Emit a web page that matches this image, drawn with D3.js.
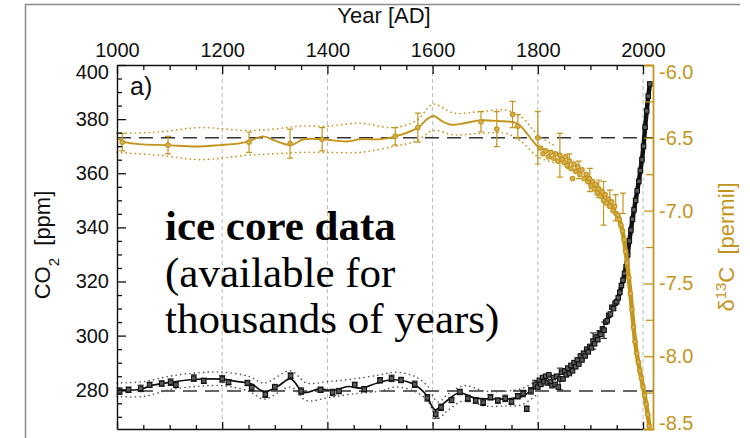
<!DOCTYPE html>
<html>
<head>
<meta charset="utf-8">
<script src="https://cdn.jsdelivr.net/npm/d3@7"></script>
<style>
  body { margin: 0; background: #fff; }
  svg { display: block; }
  text { font-family: "Liberation Sans", Arial, sans-serif; }
</style>
</head>
<body>
<svg id="chart" width="750" height="438"></svg>
<script>
// ---------------- axis ticks ----------------
const yearTicks = [1000, 1200, 1400, 1600, 1800, 2000];
const co2Ticks = [280, 300, 320, 340, 360, 380, 400];
const d13Ticks = [-6.0, -6.5, -7.0, -7.5, -8.0, -8.5];

// ---------------- CO2 (ppm) ----------------
// smoothing spline through the ice-core record
const co2SplineYear = [1000,1040,1070,1100,1140,1200,1230,1255,1280,1305,1330,1355,1385,1410,1440,1465,1495,1525,1560,1585,1605,1625,1650,1680,1710,1740,1770,1790,1800];
const co2SplineVal  = [280.0,280.0,281.8,282.7,283.7,283.9,283.0,282.2,279.3,281.2,284.0,279.0,280.3,279.7,281.2,280.6,282.5,283.7,282.4,278.8,272.6,275.6,278.8,277.0,276.6,276.6,277.5,280.0,281.0];
// spline uncertainty envelope
const co2BandYear = [1000,1050,1100,1150,1200,1250,1280,1330,1360,1400,1450,1500,1530,1565,1590,1610,1630,1660,1700,1740,1770,1800];
const co2BandHi   = [282.5,283.0,285.0,286.2,286.5,285.0,282.5,287.0,282.5,283.0,284.0,285.5,286.5,285.0,281.5,275.5,278.5,281.5,279.5,279.5,280.5,283.5];
const co2BandLo   = [277.5,277.5,280.0,281.2,281.5,279.5,276.5,281.0,276.0,277.0,278.5,279.5,281.0,279.5,276.0,269.5,272.5,276.0,274.0,274.0,274.5,278.5];
// ice-core samples with 1-sigma errors
const co2SampleYear = [1005,1022,1045,1062,1085,1102,1112,1146,1165,1200,1212,1248,1256,1282,1300,1330,1350,1387,1410,1422,1452,1470,1500,1522,1540,1566,1590,1606,1616,1636,1652,1667,1682,1696,1710,1724,1738,1750,1762,1772,1779,1787,1795];
const co2SampleVal  = [279.5,280.0,280.5,281.8,282.3,282.8,281.8,284.3,283.3,284.0,282.8,282.5,280.8,278.3,281.0,285.2,279.5,280.0,279.0,279.5,281.8,280.2,283.5,284.2,283.6,282.0,277.0,271.0,273.5,276.2,279.2,276.8,276.0,275.4,277.2,276.0,276.8,275.6,277.6,278.6,273.0,279.6,282.0];
const co2SampleErr  = [1.2,1.0,1.2,1.0,1.0,1.2,1.0,1.2,1.0,1.2,1.0,1.0,1.2,1.2,1.0,1.0,1.2,1.0,1.2,1.0,1.0,1.0,1.0,1.2,1.0,1.2,1.2,1.5,1.2,1.0,1.0,1.2,1.0,1.2,1.0,1.0,1.2,1.0,1.0,1.2,1.0,1.2,1.5];
// industrial-era firn / atmospheric record
const co2RecentYear = [1800,1803,1806,1809,1812,1815,1818,1821,1824,1827,1830,1833,1836,1839,1842,1845,1848,1851,1854,1857,1860,1863,1866,1869,1872,1875,1878,1881,1884,1887,1890,1893,1896,1899,1902,1905,1908,1911,1914,1917,1920,1923,1926,1929,1932,1935,1938,1941,1944,1947,1950,1953,1956,1959,1962,1965,1968,1971,1974,1977,1980,1983,1986,1989,1992,1995,1998,2001,2004,2007,2010,2013];
const co2RecentVal  = [281.0,283.5,282.0,284.5,283.0,285.0,282.5,285.5,283.0,281.5,284.5,282.0,285.0,281.0,284.0,286.5,284.0,287.0,285.5,288.0,286.0,289.0,287.0,290.0,288.5,291.0,289.5,292.5,291.0,293.5,292.5,295.0,294.0,296.0,295.5,298.0,297.0,299.5,298.5,301.0,300.5,302.5,302.0,305.0,305.5,307.5,308.0,310.5,310.0,312.0,312.5,314.0,316.0,318.5,320.5,323.0,325.5,330.0,335.0,339.0,343.0,346.5,350.0,353.5,357.0,361.0,365.0,370.0,377.0,383.0,388.5,393.0];
const co2BarYear = [1842, 1905, 1926];
const co2BarVal  = [284.0, 298.0, 302.0];
const co2BarErr  = [4.0, 3.0, 3.0];

// ---------------- delta13C (permil) ----------------
const d13SplineYear = [1000,1015,1050,1095,1150,1196,1230,1250,1278,1300,1330,1355,1390,1437,1462,1500,1530,1572,1590,1602,1620,1635,1660,1690,1725,1760,1775,1790,1800,1820,1840];
const d13SplineVal  = [-6.50,-6.53,-6.545,-6.55,-6.56,-6.55,-6.54,-6.525,-6.49,-6.52,-6.55,-6.51,-6.51,-6.525,-6.51,-6.51,-6.49,-6.43,-6.37,-6.35,-6.39,-6.41,-6.40,-6.38,-6.385,-6.40,-6.45,-6.52,-6.56,-6.59,-6.62];
const d13BandYear = [1000,1080,1158,1247,1300,1348,1400,1462,1525,1570,1601,1640,1690,1740,1770,1800,1830];
const d13BandHi   = [-6.47,-6.46,-6.43,-6.45,-6.44,-6.42,-6.42,-6.40,-6.43,-6.38,-6.27,-6.33,-6.32,-6.31,-6.36,-6.48,-6.55];
const d13BandLo   = [-6.60,-6.62,-6.65,-6.62,-6.61,-6.60,-6.60,-6.60,-6.56,-6.52,-6.45,-6.48,-6.47,-6.47,-6.53,-6.63,-6.67];
const d13SampleYear = [1010,1097,1251,1329,1390,1529,1572,1692,1722,1752,1762,1800];
const d13SampleVal  = [-6.53,-6.55,-6.53,-6.54,-6.51,-6.49,-6.43,-6.39,-6.44,-6.34,-6.42,-6.50];
const d13SampleErr  = [0.06,0.06,0.07,0.10,0.08,0.06,0.10,0.07,0.12,0.09,0.08,0.18];
const d13RecentYear = [1805,1810,1815,1820,1825,1830,1834,1838,1842,1846,1850,1853,1856,1860,1863,1866,1869,1872,1876,1880,1884,1888,1892,1895,1898,1901,1904,1907,1910,1913,1916,1919,1922,1925,1928,1931,1934,1937,1940,1943,1946,1949,1952,1955,1958,1961,1964,1967,1970,1973,1976,1979,1982,1985,1988,1991,1994,1997,2000,2003,2006,2009,2012];
const d13RecentVal  = [-6.57,-6.61,-6.59,-6.63,-6.60,-6.64,-6.61,-6.66,-6.62,-6.65,-6.67,-6.63,-6.69,-6.66,-6.71,-6.78,-6.68,-6.73,-6.70,-6.75,-6.72,-6.78,-6.75,-6.80,-6.78,-6.83,-6.80,-6.85,-6.82,-6.88,-6.85,-6.90,-6.87,-6.93,-6.89,-6.95,-6.92,-6.97,-6.94,-7.00,-6.97,-7.02,-7.03,-7.06,-7.10,-7.14,-7.20,-7.28,-7.36,-7.46,-7.57,-7.68,-7.80,-7.90,-7.98,-8.04,-8.10,-8.15,-8.21,-8.27,-8.33,-8.40,-8.48];
const d13BarYear = [1842,1860,1878,1899,1916,1925,1937,1948,1962];
const d13BarVal  = [-6.62,-6.66,-6.72,-6.79,-6.85,-6.95,-6.92,-6.98,-6.95];
const d13BarErr  = [0.15,0.05,0.06,0.08,0.06,0.15,0.06,0.09,0.07];

// reference levels (dashed)
const co2RefLevel = 279.5;
const d13RefLevel = -6.5;

// ---------------- drawing ----------------
const svg = d3.select("#chart");
const gold = "#c4951c";
const ink = "#111";

const x  = d3.scaleLinear().domain([1000, 2000]).range([117, 643]);
const yC = d3.scaleLinear().domain([265.5, 400]).range([429, 65]);
const yD = d3.scaleLinear().domain([-8.5, -6.0]).range([429, 65]);
const rightAxisX = 653;
const [plotBottom, plotTop] = yC.range();

// outer panel frame (top and left edges)
svg.append("path")
  .attr("d", `M25.5,438V4.5H740`)
  .attr("fill", "none").attr("stroke", "#8c8c8c").attr("stroke-width", 1.5);

// vertical dashed grid
svg.append("g").selectAll("line").data(yearTicks.slice(1)).join("line")
  .attr("x1", d => x(d)).attr("x2", d => x(d))
  .attr("y1", plotTop).attr("y2", plotBottom)
  .attr("stroke", "#b9b9b9").attr("stroke-width", 1).attr("stroke-dasharray", "4,3");

// dashed reference levels
svg.append("line")
  .attr("x1", x(1000)).attr("x2", rightAxisX)
  .attr("y1", yD(d13RefLevel)).attr("y2", yD(d13RefLevel))
  .attr("stroke", "#333").attr("stroke-width", 1.5).attr("stroke-dasharray", "14,8");
svg.append("line")
  .attr("x1", x(1000)).attr("x2", rightAxisX)
  .attr("y1", yC(co2RefLevel)).attr("y2", yC(co2RefLevel))
  .attr("stroke", "#333").attr("stroke-width", 1.5).attr("stroke-dasharray", "14,8");

const smooth = d3.curveCatmullRom.alpha(0.5);
function seriesPath(years, vals, yScale, curve) {
  return d3.line().curve(curve || d3.curveLinear)
    .x(d => x(d[0])).y(d => yScale(d[1]))(d3.zip(years, vals));
}
function errorBars(g, years, vals, errs, yScale, color, width) {
  const data = d3.zip(years, vals, errs);
  const cap = 3;
  g.selectAll(null).data(data).join("path")
    .attr("d", d => {
      const cx = x(d[0]), y1 = yScale(d[1] - d[2]), y2 = yScale(d[1] + d[2]);
      return `M${cx},${y1}V${y2}M${cx - cap},${y1}H${cx + cap}M${cx - cap},${y2}H${cx + cap}`;
    })
    .attr("fill", "none").attr("stroke", color).attr("stroke-width", width);
}

// ----- CO2 layer -----
const gC = svg.append("g");
// envelope
[co2BandHi, co2BandLo].forEach(arr => {
  gC.append("path").attr("d", seriesPath(co2BandYear, arr, yC, smooth))
    .attr("fill", "none").attr("stroke", "#555").attr("stroke-width", 1.6)
    .attr("stroke-dasharray", "0.1,4.5").attr("stroke-linecap", "round");
});
gC.append("path").attr("d", seriesPath(co2SplineYear, co2SplineVal, yC, smooth))
  .attr("fill", "none").attr("stroke", ink).attr("stroke-width", 1.7);
errorBars(gC, co2SampleYear, co2SampleVal, co2SampleErr, yC, ink, 1);
errorBars(gC, co2BarYear, co2BarVal, co2BarErr, yC, ink, 1);
// dense atmospheric part drawn as a heavy trace
const recentIdx = co2RecentYear.map((d, i) => i).filter(i => co2RecentYear[i] >= 1950);
gC.append("path")
  .attr("d", seriesPath(recentIdx.map(i => co2RecentYear[i]), recentIdx.map(i => co2RecentVal[i]), yC))
  .attr("fill", "none").attr("stroke", ink).attr("stroke-width", 4.5).attr("stroke-linejoin", "round");
const sq = 4.5;
gC.selectAll(null).data(d3.zip(co2SampleYear, co2SampleVal).concat(d3.zip(co2RecentYear, co2RecentVal))).join("rect")
  .attr("x", d => x(d[0]) - sq / 2).attr("y", d => yC(d[1]) - sq / 2)
  .attr("width", sq).attr("height", sq)
  .attr("fill", "#5a5a5a").attr("stroke", ink).attr("stroke-width", 1.1);

// ----- delta13C layer -----
const gD = svg.append("g");
[d13BandHi, d13BandLo].forEach(arr => {
  gD.append("path").attr("d", seriesPath(d13BandYear, arr, yD, smooth))
    .attr("fill", "none").attr("stroke", gold).attr("stroke-width", 1.7)
    .attr("stroke-dasharray", "0.1,4.5").attr("stroke-linecap", "round");
});
gD.append("path").attr("d", seriesPath(d13SplineYear, d13SplineVal, yD, smooth))
  .attr("fill", "none").attr("stroke", gold).attr("stroke-width", 1.9);
errorBars(gD, d13SampleYear, d13SampleVal, d13SampleErr, yD, gold, 1.2);
errorBars(gD, d13BarYear, d13BarVal, d13BarErr, yD, gold, 1.2);
const dIdx = d13RecentYear.map((d, i) => i).filter(i => d13RecentYear[i] >= 1949);
gD.append("path")
  .attr("d", seriesPath(dIdx.map(i => d13RecentYear[i]), dIdx.map(i => d13RecentVal[i]), yD))
  .attr("fill", "none").attr("stroke", gold).attr("stroke-width", 4.5).attr("stroke-linejoin", "round");
gD.selectAll(null).data(d3.zip(d13SampleYear, d13SampleVal).concat(d3.zip(d13RecentYear, d13RecentVal))).join("circle")
  .attr("cx", d => x(d[0])).attr("cy", d => yD(d[1])).attr("r", 2.2)
  .attr("fill", "#d6b25a").attr("stroke", gold).attr("stroke-width", 1.2);

// ----- axes -----
function styleAxis(g, color, fontSize) {
  g.select(".domain").attr("stroke", color).attr("stroke-width", 1.4);
  g.selectAll(".tick line").attr("stroke", color).attr("stroke-width", 1.3);
  g.selectAll(".tick text").attr("fill", color)
    .style("font-family", '"Liberation Sans", Arial, sans-serif').style("font-size", fontSize + "px");
}
const minorYears = d3.range(1050, 2000, 50).filter(d => d % 200 !== 0);

// top year axis
const gTop = svg.append("g").attr("transform", `translate(0,${plotTop})`);
gTop.call(d3.axisTop(x).tickValues(yearTicks).tickSizeInner(-9).tickSizeOuter(0).tickPadding(8).tickFormat(d3.format("d")));
styleAxis(gTop, ink, 20);
const gTopMinor = svg.append("g").attr("transform", `translate(0,${plotTop})`);
gTopMinor.call(d3.axisTop(x).tickValues(minorYears).tickSize(-5).tickFormat(""));
gTopMinor.select(".domain").remove();
styleAxis(gTopMinor, ink, 20);

// bottom year axis
const gBot = svg.append("g").attr("transform", `translate(0,${plotBottom})`);
gBot.call(d3.axisBottom(x).tickValues(yearTicks).tickSizeInner(-7).tickSizeOuter(0).tickFormat(""));
styleAxis(gBot, ink, 20);
const gBotMinor = svg.append("g").attr("transform", `translate(0,${plotBottom})`);
gBotMinor.call(d3.axisBottom(x).tickValues(minorYears).tickSize(-4).tickFormat(""));
gBotMinor.select(".domain").remove();
styleAxis(gBotMinor, ink, 20);

// left CO2 axis
const gLeft = svg.append("g").attr("transform", `translate(${x(1000)},0)`);
gLeft.call(d3.axisLeft(yC).tickValues(co2Ticks).tickSizeInner(-9).tickSizeOuter(0).tickPadding(8));
styleAxis(gLeft, ink, 20);
gLeft.selectAll(".tick text").filter(d => d === 400).attr("y", 7);
const gLeftMinor = svg.append("g").attr("transform", `translate(${x(1000)},0)`);
gLeftMinor.call(d3.axisLeft(yC).tickValues(d3.range(270, 400, 5).filter(d => d % 20 !== 0)).tickSize(-5).tickFormat(""));
gLeftMinor.select(".domain").remove();
styleAxis(gLeftMinor, ink, 20);

// right delta13C axis
const gRight = svg.append("g").attr("transform", `translate(${rightAxisX},0)`);
gRight.call(d3.axisRight(yD).tickValues(d13Ticks).tickSizeInner(-9).tickSizeOuter(-9).tickPadding(6).tickFormat(d => d.toFixed(1)));
styleAxis(gRight, gold, 20);
gRight.select(".domain").attr("stroke-width", 1.8);
gRight.selectAll(".tick text").filter(d => d === -6.0).attr("y", 7);
gRight.selectAll(".tick text").filter(d => d === -8.5).attr("y", -6);
const gRightMinor = svg.append("g").attr("transform", `translate(${rightAxisX},0)`);
gRightMinor.call(d3.axisRight(yD).tickValues(d3.range(-8.25, -6.0, 0.5)).tickSize(-7).tickFormat(""));
gRightMinor.select(".domain").remove();
styleAxis(gRightMinor, gold, 20);

// ----- titles -----
svg.append("text").attr("x", 384).attr("y", 23).attr("text-anchor", "middle")
  .style("font-size", "22px").attr("fill", ink).text("Year [AD]");

svg.append("text").attr("x", 130).attr("y", 95)
  .style("font-size", "25px").attr("fill", ink).text("a)");

const co2Title = svg.append("text")
  .attr("transform", "translate(50,245) rotate(-90)").attr("text-anchor", "middle")
  .style("font-size", "22px").attr("fill", ink);
co2Title.append("tspan").text("CO");
co2Title.append("tspan").attr("baseline-shift", "sub").style("font-size", "15px").text("2");
co2Title.append("tspan").text("\u00a0\u00a0[ppm]");

const d13Title = svg.append("text")
  .attr("transform", "translate(734,247) rotate(-90)").attr("text-anchor", "middle")
  .style("font-size", "22px").attr("fill", gold);
d13Title.append("tspan").text("δ");
d13Title.append("tspan").attr("baseline-shift", "super").style("font-size", "15px").text("13");
d13Title.append("tspan").text("C\u00a0\u00a0[permil]");

// ----- annotation -----
const note = svg.append("g").style("font-family", '"Liberation Serif", "Times New Roman", serif').attr("fill", "#000");
note.append("text").attr("x", 165).attr("y", 240).style("font-size", "43px").style("font-weight", "bold").style("font-family", "inherit").text("ice core data");
note.append("text").attr("x", 165).attr("y", 287).style("font-size", "43px").style("font-family", "inherit").text("(available for");
note.append("text").attr("x", 165).attr("y", 333).style("font-size", "43px").style("font-family", "inherit").text("thousands of years)");
</script>
</body>
</html>
